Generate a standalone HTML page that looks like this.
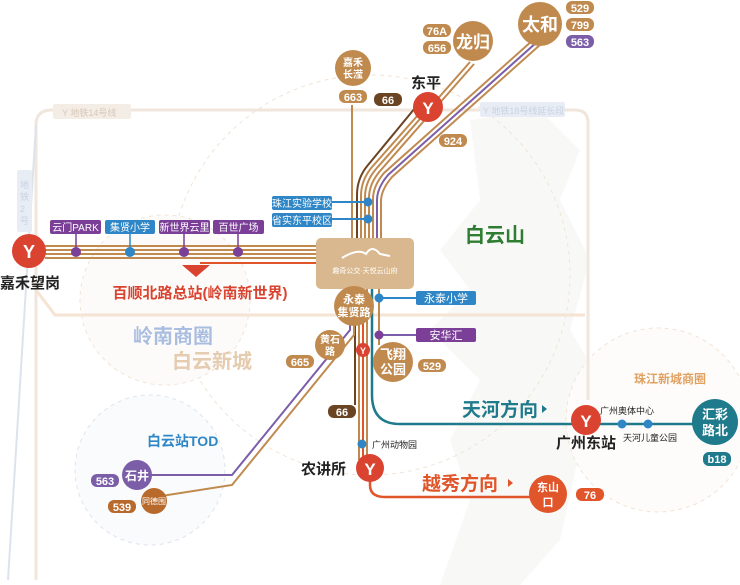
<!DOCTYPE html>
<html><head><meta charset="utf-8"><style>
html,body{margin:0;padding:0;background:#fff;}
svg{display:block;font-family:"Liberation Sans","Noto Sans CJK SC",sans-serif;}
</style></head><body>
<svg width="740" height="585" viewBox="0 0 740 585" xmlns="http://www.w3.org/2000/svg">
<!-- mountain -->
<path d="M470 120 L540 110 L580 150 L560 200 L590 260 L570 330 L600 380 L580 450 L560 540 L520 585 L440 585 L470 500 L450 440 L480 380 L430 330 L470 290 L440 250 L480 200 Z" fill="#f8f9f7"/>
<!-- dashed circles -->
<circle cx="370" cy="275" r="200" fill="none" stroke="#f1e4d6" stroke-dasharray="4 4"/>
<circle cx="165" cy="300" r="85" fill="#fdfbf9" stroke="#f1e4d6" stroke-dasharray="4 4"/>
<circle cx="150" cy="470" r="75" fill="#fafbfd" stroke="#dfe3ec" stroke-dasharray="4 4"/>
<circle cx="658" cy="420" r="92" fill="#fefcfa" stroke="#f1e4d6" stroke-dasharray="4 4"/>
<!-- metro 14 / 18 / 2 faint lines -->
<path d="M36 580 L36 125 Q36 110 52 110 L575 110 Q588 110 588 123 L588 400" fill="none" stroke="#f0e6dc" stroke-width="3"/>
<path d="M8 580 L36 125" fill="none" stroke="#dde3ee" stroke-width="2"/>
<path d="M36 290 L55 315 L585 315" fill="none" stroke="#f5e3d3" stroke-width="3"/>
<rect x="53" y="104" width="78" height="15" rx="2" fill="#f4ede6"/>
<text x="62" y="116" font-size="9" fill="#d8c8b8">Y 地铁14号线</text>
<rect x="480" y="102" width="85" height="15" rx="2" fill="#e8edf5"/>
<text x="483" y="114" font-size="9" fill="#c9d2e2">Y 地铁18号线延长段</text>
<rect x="17" y="170" width="15" height="62" rx="2" fill="#e8edf5"/>
<text x="20" y="188" font-size="9" fill="#c9d2e2">地</text><text x="20" y="200" font-size="9" fill="#c9d2e2">铁</text><text x="20" y="212" font-size="9" fill="#c9d2e2">2</text><text x="20" y="224" font-size="9" fill="#c9d2e2">号</text>

<!-- horizontal bundle west -->
<g fill="none" stroke-width="2">
<line x1="45" y1="246" x2="318" y2="246" stroke="#c08a4f"/>
<line x1="45" y1="250" x2="318" y2="250" stroke="#c08a4f"/>
<line x1="45" y1="254" x2="318" y2="254" stroke="#c08a4f"/>
<line x1="45" y1="258" x2="318" y2="258" stroke="#c08a4f"/>
<line x1="200" y1="263" x2="318" y2="263" stroke="#e0552a"/>
</g>
<!-- north bundle -->
<g fill="none" stroke-width="2">
<path d="M357 240 L357 195 Q357 178 368 165 L420 102" stroke="#6b4423"/>
<path d="M361 240 L361 196 Q361 180 372 167 L426 106" stroke="#c08a4f"/>
<path d="M365 240 L365 197 Q365 182 376 169 L470 62" stroke="#c08a4f"/>
<path d="M369 240 L369 198 Q369 184 380 171 L474 64" stroke="#c08a4f"/>
<path d="M373 240 L373 199 Q373 186 384 173 L533 40" stroke="#c08a4f"/>
<path d="M377 240 L377 200 Q377 188 388 175 L537 42" stroke="#7b5ea7"/>
<path d="M381 240 L381 201 Q381 190 392 177 L541 44" stroke="#c08a4f"/>
<line x1="352" y1="105" x2="352" y2="240" stroke="#c08a4f"/>
</g>
<!-- south bundle -->
<g fill="none" stroke-width="2">
<line x1="355" y1="288" x2="355" y2="405" stroke="#6b4423"/>
<line x1="359" y1="288" x2="359" y2="460" stroke="#c08a4f"/>
<line x1="363" y1="288" x2="363" y2="460" stroke="#e0552a"/>
<line x1="367" y1="288" x2="367" y2="460" stroke="#c08a4f"/>
<path d="M350 288 L350 330 L232 475 L140 475" stroke="#7b5ea7"/>
<path d="M354 288 L354 335 L232 485 L155 497" stroke="#c08a4f"/>
<path d="M372 288 L372 395 Q372 424 400 424 L715 424" stroke="#1f7a8c" stroke-width="2.5"/>
<path d="M370 470 L370 485 Q370 497 385 497 L548 497" stroke="#e0552a" stroke-width="2.5"/>
<line x1="379" y1="288" x2="379" y2="345" stroke="#c08a4f"/>
<line x1="379" y1="298" x2="416" y2="298" stroke="#2f86c6"/>
<line x1="379" y1="335" x2="416" y2="335" stroke="#7b5ea7"/>
<line x1="331" y1="202" x2="368" y2="202" stroke="#2f86c6"/>
<line x1="331" y1="219" x2="368" y2="219" stroke="#2f86c6"/>
</g>
<!-- stops on west bundle -->
<g stroke-width="1.5">
<line x1="76" y1="233" x2="76" y2="252" stroke="#7b3f98"/><circle cx="76" cy="252" r="5" fill="#7b3f98"/>
<line x1="130" y1="233" x2="130" y2="252" stroke="#2f86c6"/><circle cx="130" cy="252" r="5" fill="#2f86c6"/>
<line x1="184" y1="233" x2="184" y2="252" stroke="#7b3f98"/><circle cx="184" cy="252" r="5" fill="#7b3f98"/>
<line x1="238" y1="233" x2="238" y2="252" stroke="#7b3f98"/><circle cx="238" cy="252" r="5" fill="#7b3f98"/>
</g>
<g font-size="10" fill="#fff" text-anchor="middle">
<rect x="50" y="220" width="51" height="14" rx="2" fill="#7b3f98"/><text x="75.5" y="231">云门PARK</text>
<rect x="105" y="220" width="50" height="14" rx="2" fill="#2f86c6"/><text x="130" y="231">集贤小学</text>
<rect x="159" y="220" width="51" height="14" rx="2" fill="#7b3f98"/><text x="184.5" y="231">新世界云里</text>
<rect x="213" y="220" width="51" height="14" rx="2" fill="#7b3f98"/><text x="238.5" y="231">百世广场</text>
<rect x="272" y="196" width="60" height="14" rx="2" fill="#2f86c6"/><text x="302" y="207">珠江实验学校</text>
<rect x="272" y="213" width="60" height="14" rx="2" fill="#2f86c6"/><text x="302" y="224">省实东平校区</text>
<rect x="416" y="291" width="60" height="14" rx="2" fill="#2f86c6"/><text x="446" y="302" font-size="11">永泰小学</text>
<rect x="416" y="328" width="60" height="14" rx="2" fill="#7b3f98"/><text x="446" y="339" font-size="11">安华汇</text>
</g>
<circle cx="368" cy="202" r="4.5" fill="#2f86c6"/><circle cx="368" cy="219" r="4.5" fill="#2f86c6"/>
<circle cx="379" cy="298" r="4.5" fill="#2f86c6"/><circle cx="379" cy="335" r="4.5" fill="#7b3f98"/>
<polygon points="182,265 210,265 196,277" fill="#d9432f"/>
<text x="200" y="298" font-size="15" font-weight="bold" fill="#d9432f" text-anchor="middle">百顺北路总站(岭南新世界)</text>

<!-- center box -->
<rect x="316" y="238" width="98" height="51" rx="5" fill="#d9b88f"/>
<path d="M342 258 Q358 248 366 254 Q372 244 380 254 L390 256" fill="none" stroke="#fff" stroke-width="2"/>
<text x="365" y="273" font-size="7" fill="#fff" text-anchor="middle">趣奇公交·天悦云山府</text>

<!-- metro stations -->
<g>
<circle cx="29" cy="251" r="17" fill="#d9432f"/>
<circle cx="428" cy="107" r="15" fill="#d9432f"/>
<circle cx="370" cy="468" r="14" fill="#d9432f"/>
<circle cx="586" cy="420" r="15" fill="#d9432f"/>
<circle cx="363" cy="350" r="7" fill="#d9432f"/>
</g>
<g font-weight="bold" fill="#fff" text-anchor="middle">
<text x="29" y="258" font-size="18">Y</text>
<text x="428" y="114" font-size="17">Y</text>
<text x="370" y="475" font-size="17">Y</text>
<text x="586" y="427" font-size="17">Y</text>
<text x="363" y="354" font-size="9">Y</text>
</g>
<g font-size="15" font-weight="bold" fill="#222">
<text x="0" y="288">嘉禾望岗</text>
<text x="411" y="88">东平</text>
<text x="301" y="474">农讲所</text>
<text x="556" y="448">广州东站</text>
</g>

<!-- brown circles -->
<g fill="#c08a4f">
<circle cx="353" cy="68" r="18"/>
<circle cx="473" cy="41" r="20"/>
<circle cx="540" cy="24" r="22"/>
<circle cx="354" cy="306" r="20"/>
<circle cx="330" cy="345" r="15"/>
<circle cx="393" cy="362" r="20"/>
</g>
<g fill="#fff" font-weight="bold" text-anchor="middle">
<text x="353" y="66" font-size="10">嘉禾</text><text x="353" y="78" font-size="10">长滢</text>
<text x="473" y="48" font-size="17">龙归</text>
<text x="540" y="31" font-size="18">太和</text>
<text x="354" y="303" font-size="11">永泰</text><text x="354" y="316" font-size="11">集贤路</text>
<text x="330" y="343" font-size="10">黄石</text><text x="330" y="355" font-size="10">路</text>
<text x="393" y="359" font-size="13">飞翔</text><text x="393" y="374" font-size="13">公园</text>
</g>
<!-- pills -->
<g font-size="11" fill="#fff" text-anchor="middle" font-weight="bold">
<rect x="339" y="90" width="28" height="13" rx="6" fill="#c08a4f"/><text x="353" y="101">663</text>
<rect x="374" y="93" width="28" height="13" rx="6" fill="#6b4423"/><text x="388" y="104">66</text>
<rect x="423" y="24" width="28" height="13" rx="6" fill="#c08a4f"/><text x="437" y="35">76A</text>
<rect x="423" y="41" width="28" height="13" rx="6" fill="#c08a4f"/><text x="437" y="52">656</text>
<rect x="566" y="1" width="28" height="13" rx="6" fill="#c08a4f"/><text x="580" y="12">529</text>
<rect x="566" y="18" width="28" height="13" rx="6" fill="#c08a4f"/><text x="580" y="29">799</text>
<rect x="566" y="35" width="28" height="13" rx="6" fill="#7b5ea7"/><text x="580" y="46">563</text>
<rect x="439" y="134" width="28" height="13" rx="6" fill="#c08a4f"/><text x="453" y="145">924</text>
<rect x="286" y="355" width="28" height="13" rx="6" fill="#c08a4f"/><text x="300" y="366">665</text>
<rect x="418" y="359" width="28" height="13" rx="6" fill="#c08a4f"/><text x="432" y="370">529</text>
<rect x="328" y="405" width="28" height="13" rx="6" fill="#6b4423"/><text x="342" y="416">66</text>
<rect x="91" y="474" width="28" height="13" rx="6" fill="#7b5ea7"/><text x="105" y="485">563</text>
<rect x="108" y="500" width="28" height="13" rx="6" fill="#b86a2c"/><text x="122" y="511">539</text>
<rect x="576" y="488" width="28" height="13" rx="6" fill="#e0552a"/><text x="590" y="499">76</text>
<rect x="703" y="452" width="28" height="14" rx="6" fill="#1f7a8c"/><text x="717" y="463">b18</text>
</g>
<!-- south stations -->
<circle cx="137" cy="475" r="15" fill="#7b5ea7"/>
<text x="137" y="480" font-size="12" font-weight="bold" fill="#fff" text-anchor="middle">石井</text>
<circle cx="154" cy="501" r="13" fill="#b86a2c"/>
<text x="154" y="504" font-size="8" fill="#fff" text-anchor="middle">同德围</text>
<circle cx="548" cy="494" r="19" fill="#e0552a"/>
<text x="548" y="491" font-size="11" font-weight="bold" fill="#fff" text-anchor="middle">东山</text>
<text x="548" y="506" font-size="11" font-weight="bold" fill="#fff" text-anchor="middle">口</text>
<circle cx="715" cy="422" r="23" fill="#1f7a8c"/>
<text x="715" y="419" font-size="13" font-weight="bold" fill="#fff" text-anchor="middle">汇彩</text>
<text x="715" y="435" font-size="13" font-weight="bold" fill="#fff" text-anchor="middle">路北</text>
<circle cx="622" cy="424" r="4.5" fill="#2f86c6"/><circle cx="648" cy="424" r="4.5" fill="#2f86c6"/>
<circle cx="362" cy="444" r="4.5" fill="#2f86c6"/>
<text x="372" y="448" font-size="9" fill="#222">广州动物园</text>
<text x="600" y="414" font-size="9" fill="#222">广州奥体中心</text>
<text x="623" y="441" font-size="9" fill="#222">天河儿童公园</text>

<!-- area labels -->
<text x="465" y="242" font-size="20" font-weight="bold" fill="#2e7d32">白云山</text>
<text x="133" y="343" font-size="20" font-weight="bold" fill="#a9bde0">岭南商圈</text>
<text x="172" y="368" font-size="20" font-weight="bold" fill="#e5cbb0">白云新城</text>
<text x="147" y="446" font-size="14" font-weight="bold" fill="#2f86c6">白云站TOD</text>
<text x="634" y="383" font-size="12" font-weight="bold" fill="#e0a060">珠江新城商圈</text>
<text x="462" y="416" font-size="19" font-weight="bold" fill="#1f7a8c">天河方向</text>
<polygon points="542,405 547,409 542,413" fill="#1f7a8c"/>
<text x="422" y="490" font-size="19" font-weight="bold" fill="#e0552a">越秀方向</text>
<polygon points="508,479 513,483 508,487" fill="#e0552a"/>
</svg>
</body></html>
